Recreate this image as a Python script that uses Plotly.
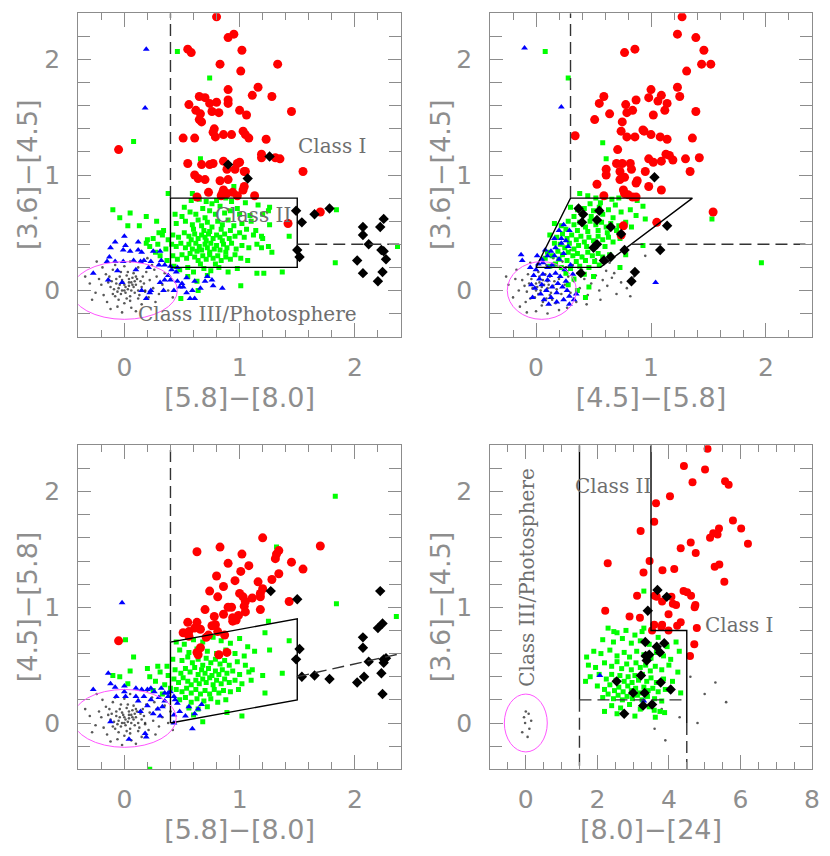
import plotly.graph_objects as go

# ---------------- panel 1 : x=[5.8]-[8.0], y=[3.6]-[4.5]
p1_red = [(0.80, 2.37), (0.90, 2.19), (0.95, 2.22), (0.55, 2.09), (0.58, 2.06), (1.02, 2.08),
          (0.83, 1.96), (1.33, 1.96), (1.01, 1.90), (0.90, 1.74), (1.16, 1.76), (1.11, 1.69),
          (1.28, 1.68), (0.65, 1.68), (0.70, 1.67), (0.90, 1.65), (0.90, 1.62), (0.74, 1.62),
          (0.80, 1.63), (0.56, 1.61), (0.62, 1.56), (0.66, 1.53), (0.76, 1.55), (0.82, 1.54),
          (1.00, 1.56), (1.06, 1.52), (1.45, 1.55), (0.65, 1.48), (0.67, 1.46), (1.03, 1.38),
          (1.05, 1.35), (1.08, 1.32), (0.78, 1.40), (0.77, 1.37), (0.79, 1.33), (0.86, 1.35),
          (0.93, 1.35), (0.51, 1.32), (0.61, 1.32), (1.23, 1.31), (-0.05, 1.22), (1.19, 1.18),
          (1.19, 1.15), (1.31, 1.15), (1.35, 1.14), (0.86, 1.12), (0.89, 1.05), (0.55, 1.10),
          (0.67, 1.09), (0.74, 1.09), (0.77, 1.10), (0.98, 1.10), (1.00, 1.11), (0.96, 1.05),
          (1.04, 1.03), (1.05, 1.03), (1.55, 1.03), (0.61, 1.00), (0.64, 0.97), (0.70, 0.96),
          (0.83, 0.95), (0.90, 0.96), (1.04, 0.90), (1.03, 0.87), (0.86, 0.87), (0.85, 0.84),
          (0.73, 0.85), (0.89, 0.84), (0.94, 0.85), (0.98, 0.82), (0.84, 0.82), (0.63, 0.81),
          (1.13, 0.82), (1.42, 0.58), (1.70, 0.68)]
p1_black = [(0.90, 1.09), (1.07, 0.97), (1.26, 1.16), (1.49, 0.69), (1.54, 0.59), (1.65, 0.66),
            (1.78, 0.71), (1.50, 0.35), (1.52, 0.29), (2.07, 0.55), (2.07, 0.48), (2.12, 0.40),
            (2.02, 0.26), (2.07, 0.15), (2.25, 0.62), (2.22, 0.55), (2.23, 0.35), (2.25, 0.34),
            (2.27, 0.27), (2.24, 0.16), (2.20, 0.08)]
p1_green = [(0.46, 2.07), (0.74, 1.84), (0.08, 1.29), (0.66, 1.14), (-0.10, 0.70), (-0.04, 0.63),
            (0.05, 0.67), (0.03, 0.56), (0.13, 0.56), (0.19, 0.64), (0.38, 0.84), (0.28, 0.60),
            (0.30, 0.50), (0.20, 0.44), (0.19, 0.41), (0.59, 0.84), (0.95, 0.90), (1.26, 0.57),
            (1.25, 0.69), (1.43, 0.47), (1.19, 0.47), (1.19, 0.37), (1.28, 0.33), (1.37, 0.16),
            (1.21, 0.15), (1.15, 0.15), (1.01, 0.04), (1.83, 0.24), (1.84, 0.70), (2.37, 0.38),
            (0.64, 0.00), (0.49, -0.07),
            (0.58, 0.78), (0.65, 0.79), (0.71, 0.77), (0.76, 0.75), (0.80, 0.78), (0.88, 0.80),
            (0.93, 0.77), (1.05, 0.76), (1.16, 0.74), (1.26, 0.72), (0.52, 0.72), (0.68, 0.71),
            (0.83, 0.73), (0.98, 0.71), (0.44, 0.66), (0.50, 0.64), (0.57, 0.68), (0.62, 0.66),
            (0.74, 0.69), (0.79, 0.66), (0.87, 0.67), (0.92, 0.69), (1.00, 0.66), (1.09, 0.65),
            (1.20, 0.66), (0.70, 0.63), (0.45, 0.58), (0.53, 0.60), (0.59, 0.57), (0.64, 0.61),
            (0.67, 0.56), (0.72, 0.59), (0.76, 0.55), (0.81, 0.60), (0.85, 0.57), (0.90, 0.61),
            (0.95, 0.56), (1.02, 0.58), (1.10, 0.60), (0.60, 0.53), (0.69, 0.52), (0.74, 0.51),
            (0.84, 0.53), (0.92, 0.52), (1.06, 0.53), (1.14, 0.52), (0.42, 0.48), (0.47, 0.46),
            (0.52, 0.50), (0.56, 0.47), (0.61, 0.49), (0.64, 0.45), (0.67, 0.48), (0.70, 0.46),
            (0.73, 0.49), (0.77, 0.45), (0.80, 0.48), (0.83, 0.46), (0.87, 0.49), (0.91, 0.45),
            (0.96, 0.47), (1.00, 0.50), (1.04, 0.46), (1.12, 0.48), (1.20, 0.45), (0.58, 0.44),
            (0.71, 0.43), (0.85, 0.43), (0.41, 0.40), (0.45, 0.38), (0.49, 0.41), (0.53, 0.37),
            (0.56, 0.40), (0.59, 0.36), (0.62, 0.41), (0.65, 0.38), (0.67, 0.35), (0.70, 0.40),
            (0.72, 0.37), (0.75, 0.41), (0.78, 0.36), (0.80, 0.39), (0.83, 0.35), (0.86, 0.40),
            (0.89, 0.37), (0.93, 0.41), (0.97, 0.36), (1.02, 0.39), (1.08, 0.37), (1.15, 0.40),
            (1.25, 0.38), (0.63, 0.34), (0.74, 0.33), (0.88, 0.33), (0.42, 0.30), (0.46, 0.27),
            (0.50, 0.31), (0.54, 0.28), (0.57, 0.32), (0.61, 0.29), (0.64, 0.26), (0.68, 0.30),
            (0.71, 0.27), (0.74, 0.31), (0.77, 0.28), (0.81, 0.30), (0.84, 0.26), (0.88, 0.29),
            (0.92, 0.27), (0.96, 0.31), (1.01, 0.28), (1.07, 0.26), (0.66, 0.23), (0.79, 0.23),
            (0.43, 0.21), (0.48, 0.18), (0.55, 0.20), (0.60, 0.16), (0.69, 0.19), (0.75, 0.17),
            (0.82, 0.20), (0.90, 0.16), (0.98, 0.19), (0.55, 0.12), (0.72, 0.13), (0.63, 0.08),
            (0.25, 0.45), (0.29, 0.40), (0.33, 0.48), (0.36, 0.36), (0.22, 0.38), (0.31, 0.30),
            (0.37, 0.26), (0.27, 0.33), (0.34, 0.52), (0.38, 0.44)]
p1_blue = [(0.19, 2.09), (0.18, 1.58), (-0.27, 0.15), (-0.15, 0.25), (-0.13, 0.29), (-0.08, 0.25),
           (-0.12, 0.37), (-0.08, 0.42), (0.00, 0.47), (0.01, 0.39), (-0.01, 0.35), (0.05, 0.34),
           (0.12, 0.42), (0.12, 0.35), (0.15, 0.33), (0.17, 0.26), (0.08, 0.26), (-0.01, 0.25),
           (0.14, 0.25), (0.23, 0.25), (0.25, 0.34), (0.31, 0.34), (0.32, 0.26), (0.21, 0.20),
           (0.10, 0.18), (-0.14, 0.09), (-0.06, 0.17), (0.30, 0.22), (0.35, 0.22), (0.40, 0.21),
           (0.38, 0.13), (0.41, 0.18), (0.45, 0.16), (0.46, 0.08), (0.50, 0.06), (0.51, 0.03),
           (0.54, -0.02), (0.57, -0.07), (0.61, -0.07), (0.48, 0.03), (0.40, 0.09), (0.35, 0.09),
           (0.34, 0.00), (0.43, 0.00), (0.54, 0.11), (0.59, 0.00), (0.66, 0.02), (0.61, 0.08),
           (0.70, 0.08), (0.72, 0.12), (0.76, 0.09), (0.77, 0.04), (0.85, 0.02), (0.22, -0.02),
           (0.23, 0.00), (0.15, 0.00), (0.19, -0.07), (-0.02, 0.07), (0.31, 0.07), (0.46, 0.20)]
# photospheric cloud, shared by panels 1 and 3 (same x colour)
grey_13 = [(-0.05, 0.02), (0.00, 0.05), (0.03, 0.01), (0.06, 0.07), (-0.02, 0.09), (0.08, 0.03),
           (0.01, -0.02), (-0.07, 0.06), (0.04, 0.10), (0.10, 0.05), (-0.03, -0.03), (0.12, 0.00),
           (0.05, -0.05), (-0.09, 0.01), (0.02, 0.13), (0.07, 0.11), (-0.04, 0.12), (0.14, 0.08),
           (-0.11, 0.08), (0.09, -0.02), (0.00, 0.00), (-0.01, 0.07), (0.04, 0.04), (0.06, 0.00),
           (-0.06, -0.01), (0.11, 0.10), (0.02, -0.07), (-0.08, -0.05), (0.15, 0.03), (0.13, -0.04),
           (-0.12, 0.03), (0.03, 0.16), (-0.03, 0.16), (0.08, 0.15), (-0.10, -0.03), (0.17, 0.06),
           (0.05, -0.09), (-0.05, -0.08), (0.01, 0.03), (0.07, 0.05), (-0.02, 0.00), (0.10, 0.12),
           (-0.07, 0.10), (0.12, -0.07), (0.00, -0.11), (-0.13, 0.12), (0.18, -0.01), (0.04, 0.07),
           (-0.04, 0.05), (0.09, 0.08), (-0.20, 0.05), (-0.18, -0.04), (-0.16, 0.14), (-0.22, 0.10),
           (-0.25, -0.02), (0.22, 0.09), (0.25, 0.02), (0.21, -0.06), (0.28, 0.12), (0.30, -0.03),
           (-0.15, -0.10), (0.19, 0.16), (-0.10, 0.18), (0.15, -0.12), (0.00, 0.21), (0.06, -0.15),
           (-0.06, -0.14), (0.12, 0.20), (-0.30, 0.06), (0.33, 0.05), (-0.28, -0.08), (0.35, 0.15),
           (0.27, -0.10), (-0.19, 0.20), (0.24, 0.22), (0.10, -0.18), (-0.12, -0.16), (0.38, 0.00),
           (-0.34, 0.12), (0.40, 0.10), (0.05, 0.25), (-0.02, -0.19), (0.20, 0.28), (-0.24, 0.25),
           (0.42, -0.06), (0.16, 0.12), (-0.14, 0.07), (0.18, 0.00), (-0.08, 0.22), (0.26, 0.18)]

# ---------------- panel 2 : x=[4.5]-[5.8], y=[3.6]-[4.5]
p2_red = [(1.27, 2.37), (1.23, 2.22), (1.39, 2.19), (0.86, 2.09), (0.77, 2.06), (1.46, 2.08),
          (1.44, 1.96), (1.52, 1.96), (1.31, 1.90), (1.23, 1.76), (1.25, 1.68), (1.00, 1.74),
          (1.09, 1.69), (0.98, 1.67), (1.06, 1.64), (1.14, 1.62), (0.59, 1.68), (0.55, 1.62),
          (0.87, 1.65), (0.78, 1.61), (0.79, 1.54), (0.84, 1.56), (0.64, 1.53), (1.02, 1.52),
          (1.12, 1.56), (1.39, 1.55), (0.51, 1.48), (0.75, 1.46), (0.34, 1.34), (0.74, 1.38),
          (0.79, 1.33), (0.86, 1.33), (0.93, 1.39), (0.94, 1.38), (1.00, 1.35), (1.08, 1.33),
          (1.14, 1.31), (1.36, 1.32), (0.71, 1.22), (1.13, 1.18), (1.16, 1.17), (1.19, 1.13),
          (1.09, 1.12), (1.30, 1.14), (1.42, 1.15), (0.70, 1.10), (0.75, 1.10), (0.82, 1.10),
          (0.83, 1.05), (0.98, 1.14), (1.02, 1.11), (0.95, 1.03), (1.34, 1.03), (0.61, 1.05),
          (0.61, 1.00), (0.73, 1.03), (0.73, 0.96), (0.77, 0.98), (0.88, 0.95), (0.87, 0.93),
          (0.98, 0.90), (1.09, 0.87), (0.53, 0.92), (0.59, 0.82), (0.76, 0.87), (0.77, 0.84),
          (0.80, 0.83), (0.84, 0.81), (0.87, 0.81), (0.76, 0.56), (0.74, 0.48), (1.05, 0.59),
          (1.54, 0.68)]
p2_black = [(1.03, 0.98), (0.37, 0.71), (0.41, 0.66), (0.40, 0.59), (0.55, 0.69), (0.53, 0.61),
            (0.65, 0.55), (0.74, 0.49), (0.50, 0.37), (0.53, 0.40), (0.59, 0.26), (0.65, 0.29),
            (0.77, 0.35), (1.14, 0.56), (1.08, 0.35), (0.39, 0.15), (0.86, 0.16), (0.83, 0.08)]
p2_green = [(0.08, 2.07), (0.28, 1.84), (0.58, 1.28), (0.61, 1.14), (1.53, 0.62), (1.96, 0.24),
            (0.93, 0.39), (0.43, -0.06), (0.73, 0.20), (0.78, 0.31),
            (0.38, 0.84), (0.45, 0.82), (0.52, 0.80), (0.60, 0.81), (0.66, 0.79), (0.72, 0.80),
            (0.80, 0.83), (0.56, 0.76), (0.47, 0.75), (0.69, 0.74), (0.88, 0.78), (0.93, 0.73),
            (0.30, 0.72), (0.36, 0.70), (0.42, 0.71), (0.50, 0.69), (0.55, 0.72), (0.63, 0.70),
            (0.74, 0.68), (0.82, 0.70), (0.40, 0.66), (0.48, 0.64), (0.58, 0.66), (0.67, 0.63),
            (0.87, 0.65), (0.95, 0.62), (0.33, 0.64), (0.16, 0.58), (0.22, 0.56), (0.28, 0.60),
            (0.33, 0.57), (0.38, 0.59), (0.43, 0.55), (0.47, 0.60), (0.52, 0.57), (0.57, 0.59),
            (0.61, 0.55), (0.65, 0.58), (0.72, 0.56), (0.78, 0.59), (0.83, 0.55), (0.26, 0.53),
            (0.36, 0.52), (0.45, 0.51), (0.54, 0.52), (0.62, 0.50), (0.70, 0.52), (0.12, 0.48),
            (0.18, 0.46), (0.23, 0.49), (0.27, 0.45), (0.31, 0.48), (0.35, 0.44), (0.39, 0.47),
            (0.42, 0.42), (0.46, 0.46), (0.50, 0.43), (0.54, 0.47), (0.58, 0.44), (0.63, 0.46),
            (0.67, 0.42), (0.73, 0.45), (0.16, 0.41), (0.21, 0.40), (0.29, 0.41), (0.37, 0.39),
            (0.44, 0.38), (0.52, 0.39), (0.60, 0.38), (0.33, 0.36), (0.25, 0.37), (0.10, 0.33),
            (0.14, 0.30), (0.19, 0.34), (0.23, 0.31), (0.28, 0.33), (0.32, 0.30), (0.36, 0.32),
            (0.40, 0.29), (0.45, 0.33), (0.49, 0.30), (0.54, 0.32), (0.58, 0.29), (0.64, 0.31),
            (0.20, 0.27), (0.27, 0.26), (0.35, 0.25), (0.43, 0.26), (0.51, 0.25), (0.08, 0.28),
            (0.17, 0.23), (0.12, 0.21), (0.22, 0.20), (0.30, 0.19), (0.38, 0.21), (0.46, 0.20),
            (0.55, 0.22), (0.26, 0.15), (0.42, 0.14), (0.33, 0.10), (0.50, 0.12), (0.28, 0.05),
            (0.46, 0.03), (0.36, 0.00)]
p2_blue = [(-0.10, 2.10), (0.22, 1.59), (1.04, 0.07), (-0.13, 0.31), (-0.12, 0.26),
           (0.00, 0.18), (0.02, 0.23), (0.05, 0.27), (0.10, 0.30), (0.13, 0.34), (0.17, 0.37),
           (0.22, 0.45), (0.22, 0.41), (0.26, 0.43), (0.28, 0.38), (0.16, 0.30), (0.20, 0.27),
           (0.24, 0.32), (0.14, 0.22), (0.10, 0.20), (0.06, 0.14), (0.03, 0.10), (-0.02, 0.13),
           (-0.04, 0.05), (-0.01, 0.02), (0.05, 0.05), (0.10, 0.09), (0.12, 0.13), (0.17, 0.15),
           (0.21, 0.12), (0.19, 0.06), (0.14, 0.03), (0.09, 0.00), (0.04, -0.03), (0.13, -0.06),
           (0.18, -0.02), (0.23, 0.03), (0.26, 0.08), (0.27, 0.00), (0.29, -0.05), (0.24, -0.08),
           (0.18, -0.10), (0.11, -0.12), (0.07, -0.08), (-0.03, -0.06), (0.29, -0.12), (0.33, -0.08),
           (0.35, -0.03), (0.25, 0.18), (0.30, 0.22), (0.32, 0.14), (0.08, 0.35), (0.16, 0.45),
           (0.20, 0.52), (0.24, 0.57), (0.29, 0.52), (0.01, 0.30), (-0.05, 0.20), (0.06, 0.24)]
p2_grey = [(0.05, 0.03), (0.00, 0.06), (0.08, 0.00), (0.02, -0.03), (-0.03, 0.02), (0.11, 0.05),
           (0.06, 0.09), (-0.06, 0.06), (0.13, -0.02), (0.03, 0.12), (-0.01, -0.06), (0.09, -0.07),
           (0.16, 0.08), (-0.08, -0.01), (0.04, 0.00), (0.07, 0.05), (-0.04, 0.10), (0.12, 0.12),
           (0.01, 0.03), (0.10, 0.02), (-0.10, 0.04), (0.18, 0.01), (0.06, -0.10), (-0.05, -0.07),
           (0.14, -0.08), (0.02, 0.16), (0.20, 0.10), (-0.12, 0.09), (0.08, 0.14), (0.15, 0.04),
           (-0.02, 0.13), (0.22, -0.03), (0.05, -0.13), (-0.09, -0.10), (0.17, -0.11), (0.00, 0.00),
           (0.10, 0.08), (0.03, 0.07), (-0.07, 0.14), (0.12, -0.04), (0.25, 0.05), (0.28, 0.12),
           (0.30, -0.02), (0.33, 0.08), (0.36, 0.15), (0.38, 0.02), (0.42, 0.10), (0.45, -0.04),
           (0.48, 0.06), (0.52, 0.13), (0.55, 0.00), (0.58, 0.09), (0.62, 0.04), (0.66, 0.11),
           (0.70, -0.03), (0.74, 0.07), (0.79, 0.02), (0.26, 0.20), (0.32, 0.22), (0.40, 0.18),
           (0.47, 0.20), (0.35, -0.10), (0.44, -0.12), (0.27, -0.15), (0.56, -0.08), (0.61, 0.17),
           (0.68, 0.15), (-0.15, 0.00), (-0.18, 0.10), (-0.20, -0.06), (-0.24, 0.05), (-0.14, -0.14),
           (-0.17, 0.18), (-0.26, 0.12), (0.00, -0.18), (0.10, -0.20), (-0.08, -0.19), (0.20, -0.17),
           (0.09, 0.22), (-0.05, 0.24), (0.23, 0.25), (0.15, 0.28), (0.52, 0.27), (0.64, 0.24),
           (0.40, 0.30), (0.73, 0.20), (0.30, 0.35), (0.85, 0.12), (0.82, -0.05), (0.95, 0.30)]

# ---------------- panel 3 : x=[5.8]-[8.0], y=[4.5]-[5.8]
p3_red = [(1.20, 1.60), (1.70, 1.53), (0.83, 1.52), (0.63, 1.48), (1.32, 1.46), (1.34, 1.49),
          (1.31, 1.42), (1.02, 1.46), (0.90, 1.38), (1.08, 1.36), (1.45, 1.39), (1.55, 1.33),
          (1.01, 1.31), (1.34, 1.29), (0.80, 1.27), (0.96, 1.23), (1.16, 1.22), (1.28, 1.24),
          (0.86, 1.18), (0.74, 1.14), (1.20, 1.16), (1.18, 1.12), (1.18, 1.09), (1.00, 1.12),
          (1.03, 1.09), (1.05, 1.05), (1.11, 1.08), (0.81, 1.09), (1.43, 1.05), (0.90, 1.00),
          (0.93, 1.00), (0.70, 0.98), (1.18, 0.98), (1.04, 1.01), (1.05, 0.96), (0.78, 0.92),
          (0.86, 0.94), (0.97, 0.89), (0.99, 0.93), (0.55, 0.87), (0.63, 0.87), (0.61, 0.82),
          (0.66, 0.81), (0.76, 0.84), (0.79, 0.85), (0.51, 0.78), (0.56, 0.75), (0.56, 0.79),
          (0.71, 0.74), (0.73, 0.76), (0.81, 0.79), (0.87, 0.76), (0.66, 0.65), (0.63, 0.61),
          (0.64, 0.59), (0.82, 0.59), (0.89, 0.61), (-0.05, 0.71), (0.94, 0.88), (0.94, 0.91)]
p3_black = [(1.27, 1.14), (1.50, 1.07), (1.52, 0.64), (1.49, 0.55), (1.54, 0.40), (1.65, 0.41),
            (1.78, 0.38), (2.02, 0.35), (2.08, 0.40), (2.07, 0.74), (2.07, 0.65), (2.12, 0.53),
            (2.22, 1.14), (2.20, 0.82), (2.24, 0.86), (2.25, 0.55), (2.27, 0.56), (2.25, 0.52),
            (2.23, 0.43), (2.24, 0.25)]
p3_green = [(1.83, 1.96), (1.84, 1.03), (2.36, 0.92), (1.32, 1.52), (0.01, 0.72), (0.08, 0.57),
            (0.22, -0.40), (0.20, 0.47), (0.05, 0.45), (-0.04, 0.40), (-0.10, 0.41), (0.03, 0.34),
            (1.43, 0.71), (1.26, 0.63), (1.22, 0.78), (1.25, 0.88), (1.37, 0.43), (1.22, 0.26),
            (1.20, 0.41), (1.02, 0.06), (0.89, 0.09), (0.68, 0.01),
            (0.45, 0.70), (0.52, 0.68), (0.60, 0.72), (0.68, 0.70), (0.77, 0.74), (0.84, 0.71),
            (0.92, 0.69), (1.00, 0.73), (1.07, 0.66), (0.48, 0.63), (0.56, 0.61), (0.63, 0.64),
            (0.72, 0.62), (0.80, 0.60), (0.88, 0.63), (0.96, 0.60), (1.04, 0.58), (1.13, 0.62),
            (0.42, 0.55), (0.50, 0.54), (0.55, 0.57), (0.59, 0.52), (0.64, 0.55), (0.68, 0.50),
            (0.71, 0.56), (0.75, 0.52), (0.79, 0.55), (0.83, 0.51), (0.87, 0.54), (0.91, 0.50),
            (0.98, 0.53), (1.05, 0.50), (1.11, 0.46), (0.44, 0.46), (0.49, 0.43), (0.53, 0.47),
            (0.57, 0.44), (0.61, 0.48), (0.64, 0.42), (0.67, 0.46), (0.70, 0.43), (0.73, 0.47),
            (0.76, 0.41), (0.79, 0.45), (0.82, 0.42), (0.85, 0.46), (0.89, 0.43), (0.94, 0.45),
            (1.00, 0.42), (1.08, 0.44), (0.43, 0.38), (0.47, 0.35), (0.51, 0.39), (0.55, 0.36),
            (0.58, 0.33), (0.62, 0.37), (0.65, 0.34), (0.68, 0.38), (0.71, 0.35), (0.74, 0.39),
            (0.77, 0.33), (0.80, 0.37), (0.84, 0.34), (0.87, 0.38), (0.91, 0.35), (0.96, 0.37),
            (1.02, 0.34), (1.10, 0.37), (0.45, 0.29), (0.50, 0.27), (0.54, 0.30), (0.58, 0.26),
            (0.62, 0.29), (0.66, 0.25), (0.70, 0.28), (0.74, 0.25), (0.78, 0.29), (0.82, 0.26),
            (0.86, 0.28), (0.92, 0.27), (0.99, 0.29), (0.48, 0.20), (0.53, 0.22), (0.58, 0.18),
            (0.63, 0.21), (0.69, 0.19), (0.75, 0.21), (0.81, 0.18), (0.88, 0.20), (0.56, 0.13),
            (0.64, 0.12), (0.72, 0.14), (0.60, 0.07), (0.22, 0.40), (0.27, 0.36), (0.31, 0.44),
            (0.35, 0.33), (0.38, 0.41), (0.25, 0.28), (0.33, 0.25), (0.37, 0.49), (0.29, 0.49),
            (0.40, 0.30)]
p3_blue = [(-0.02, 1.04), (-0.27, 0.29), (-0.14, 0.43), (-0.12, 0.34), (-0.08, 0.31), (0.00, 0.32),
           (0.00, 0.27), (0.10, 0.30), (0.15, 0.29), (0.20, 0.29), (0.23, 0.30), (-0.07, 0.23),
           (0.01, 0.23), (0.10, 0.23), (0.12, 0.19), (0.17, 0.23), (0.20, 0.15), (0.14, 0.10),
           (0.25, 0.08), (0.29, 0.12), (0.33, 0.14), (0.30, 0.22), (0.35, 0.26), (0.38, 0.23),
           (0.43, 0.23), (0.40, 0.27), (0.44, 0.20), (0.46, 0.17), (0.48, 0.10), (0.53, 0.06),
           (0.56, 0.14), (0.61, 0.08), (0.64, 0.12), (0.67, 0.16), (0.43, 0.07), (0.43, 0.00),
           (0.59, -0.05), (-0.12, 0.01), (0.04, -0.14), (0.19, -0.12), (0.18, -0.09), (0.38, 0.26),
           (0.35, 0.19), (0.23, 0.20), (0.31, 0.06), (0.26, 0.27), (0.32, 0.30)]

# ---------------- panel 4 : x=[8.0]-[24], y=[3.6]-[4.5]
p4_red = [(5.08, 2.37), (4.42, 2.22), (5.01, 2.19), (4.66, 2.08), (5.57, 2.09), (5.67, 2.06),
          (4.03, 1.96), (3.64, 1.90), (3.59, 1.74), (3.21, 1.66), (5.79, 1.75), (5.40, 1.68),
          (6.02, 1.68), (5.15, 1.60), (5.24, 1.64), (5.36, 1.63), (4.61, 1.56), (4.75, 1.47),
          (4.33, 1.51), (6.21, 1.55), (2.29, 1.38), (3.46, 1.40), (3.29, 1.30), (3.82, 1.32),
          (4.15, 1.33), (5.28, 1.35), (5.41, 1.37), (5.55, 1.22), (3.11, 1.10), (3.60, 1.10),
          (3.66, 1.09), (3.81, 1.05), (4.07, 1.09), (4.41, 1.14), (4.51, 1.13), (4.62, 1.10),
          (4.11, 1.03), (4.20, 1.02), (4.74, 1.02), (4.72, 1.00), (2.22, 0.97), (2.90, 0.92),
          (3.19, 0.91), (3.99, 0.94), (3.59, 0.85), (3.81, 0.85), (3.79, 0.83), (3.99, 0.80),
          (3.53, 0.80), (4.33, 0.87), (4.23, 0.84), (4.78, 0.82), (4.71, 0.68), (4.59, 0.58)]
p4_black = [(3.68, 1.15), (3.94, 1.09), (3.41, 0.97), (3.34, 0.70), (3.66, 0.66), (3.75, 0.61),
            (3.87, 0.69), (3.35, 0.58), (3.45, 0.59), (3.38, 0.54), (3.22, 0.41), (2.54, 0.36),
            (3.77, 0.35), (3.00, 0.26), (3.32, 0.26), (4.05, 0.29), (3.28, 0.15), (3.53, 0.16),
            (2.75, 0.08)]
p4_green = [(3.30, 1.14), (2.46, 0.79), (3.30, 0.82), (1.67, 0.36), (1.70, 0.57), (4.29, 0.62),
            (4.33, 0.26), (2.20, 0.10), (3.88, 0.09), (3.59, 0.11),
            (2.30, 0.82), (2.55, 0.78), (2.80, 0.80), (3.05, 0.76), (3.25, 0.79), (2.15, 0.72),
            (2.45, 0.70), (2.70, 0.73), (2.95, 0.69), (3.20, 0.71), (3.45, 0.68), (3.70, 0.74),
            (3.95, 0.66), (4.20, 0.70), (1.90, 0.62), (2.10, 0.60), (2.35, 0.63), (2.55, 0.58),
            (2.75, 0.61), (2.90, 0.57), (3.10, 0.62), (3.30, 0.59), (3.50, 0.56), (3.65, 0.61),
            (3.85, 0.58), (4.05, 0.55), (1.75, 0.50), (1.95, 0.48), (2.20, 0.52), (2.40, 0.49),
            (2.55, 0.53), (2.68, 0.47), (2.82, 0.51), (2.95, 0.46), (3.08, 0.52), (3.20, 0.48),
            (3.35, 0.50), (3.48, 0.45), (3.62, 0.49), (3.80, 0.46), (4.00, 0.50), (4.25, 0.44),
            (1.80, 0.40), (2.05, 0.42), (2.25, 0.38), (2.40, 0.42), (2.52, 0.37), (2.63, 0.41),
            (2.75, 0.36), (2.86, 0.40), (2.97, 0.35), (3.05, 0.41), (3.15, 0.37), (3.26, 0.42),
            (3.38, 0.36), (3.50, 0.39), (3.65, 0.35), (3.85, 0.38), (4.10, 0.36), (2.00, 0.32),
            (2.20, 0.29), (2.35, 0.33), (2.48, 0.28), (2.60, 0.31), (2.72, 0.27), (2.85, 0.32),
            (2.95, 0.28), (3.07, 0.30), (3.18, 0.26), (3.30, 0.31), (3.42, 0.28), (3.55, 0.30),
            (3.70, 0.27), (3.90, 0.29), (2.15, 0.22), (2.30, 0.25), (2.45, 0.21), (2.58, 0.24),
            (2.70, 0.20), (2.83, 0.23), (2.98, 0.21), (3.12, 0.24), (3.25, 0.20), (3.40, 0.23),
            (3.60, 0.21), (3.80, 0.19), (2.40, 0.15), (2.65, 0.13), (2.90, 0.16), (3.20, 0.12),
            (3.45, 0.14), (3.75, 0.10), (2.55, 0.08), (3.05, 0.06), (3.62, 0.05)]
p4_blue = [(2.07, 0.41), (3.30, 0.19)]
p4_grey = [(-0.05, 0.05), (0.10, -0.05), (0.00, 0.10), (-0.10, -0.08), (0.15, 0.02), (0.05, -0.12),
           (-0.02, 0.00), (0.08, 0.08), (3.80, 0.12), (4.30, 0.05), (5.00, 0.25), (5.60, 0.18),
           (4.80, 0.00), (3.60, -0.05), (4.10, 0.30), (5.30, 0.35), (4.60, 0.40), (3.90, -0.15)]

# ---------------- selection criteria (x list, y list)
p1_box = ([0.4, 1.5, 1.5, 0.4, 0.4], [0.2, 0.2, 0.8, 0.8, 0.2])
p1_dashes = [([0.4, 0.4], [0.8, 2.4]), ([1.5, 2.4], [0.4, 0.4])]
p2_box = ([0.0, 0.56, 1.36, 0.3, 0.0], [0.2, 0.2, 0.8, 0.8, 0.2])
p2_dashes = [([0.3, 0.3], [0.8, 2.4]), ([0.83, 2.4], [0.4, 0.4])]
p3_box = ([0.4, 1.5, 1.5, 0.4, 0.4], [0.0, 0.2, 0.9, 0.7, 0.0])
p3_dashes = [([0.4, 0.4], [0.7, 2.4]), ([1.5, 2.4], [0.4, 0.6])]
p4_solid = [([1.5, 1.5], [0.2, 2.4]), ([3.5, 3.5, 4.5, 4.5], [2.4, 0.8, 0.8, 0.0])]
p4_dashes = [([1.5, 1.5], [0.2, -0.4]), ([4.5, 4.5], [0.0, -0.4]), ([1.5, 4.5], [0.2, 0.2])]
# photosphere ellipses: (xc, yc, half-width, half-height)
ellipses = {1: (0.0, 0.0, 0.46, 0.25), 2: (0.05, 0.0, 0.30, 0.25),
            3: (0.0, 0.04, 0.45, 0.25), 4: (0.0, 0.0, 0.60, 0.25)}

fig = go.Figure()


def ax(n):
    return ('x' if n == 1 else 'x%d' % n), ('y' if n == 1 else 'y%d' % n)


def add_points(n, pts, symbol, color, size, opacity=1.0):
    xa, ya = ax(n)
    fig.add_trace(go.Scatter(
        x=[p[0] for p in pts], y=[p[1] for p in pts], mode='markers', xaxis=xa, yaxis=ya,
        marker=dict(symbol=symbol, color=color, size=size, opacity=opacity, line=dict(width=0)),
        showlegend=False, hoverinfo='skip'))


def add_line(n, xs, ys, dashed):
    xa, ya = ax(n)
    fig.add_trace(go.Scatter(
        x=xs, y=ys, mode='lines', xaxis=xa, yaxis=ya,
        line=dict(color='#333333' if dashed else 'black', width=1.4,
                  dash='12px,6px' if dashed else 'solid'),
        showlegend=False, hoverinfo='skip'))


panels = {
    1: (grey_13, p1_green, p1_blue, p1_red, p1_black),
    2: (p2_grey, p2_green, p2_blue, p2_red, p2_black),
    3: (grey_13, p3_green, p3_blue, p3_red, p3_black),
    4: (p4_grey, p4_green, p4_blue, p4_red, p4_black),
}
for n, (grey, green, blue, red, black) in panels.items():
    add_points(n, grey, 'circle', '#222222', 2.6, 0.75)
    add_points(n, green, 'square', '#00ff00', 5)
    add_points(n, blue, 'triangle-up', '#0000ff', 6)
    add_points(n, red, 'circle', '#ff0000', 9 if n < 4 else 8)
    add_points(n, black, 'diamond', 'black', 8)

for n, box, dashes in [(1, p1_box, p1_dashes), (2, p2_box, p2_dashes), (3, p3_box, p3_dashes)]:
    add_line(n, box[0], box[1], False)
    for xs, ys in dashes:
        add_line(n, xs, ys, True)
for xs, ys in p4_solid:
    add_line(4, xs, ys, False)
for xs, ys in p4_dashes:
    add_line(4, xs, ys, True)

for n, (xc, yc, a, b) in ellipses.items():
    xa, ya = ax(n)
    fig.add_shape(type='circle', xref=xa, yref=ya, x0=xc - a, x1=xc + a, y0=yc - b, y1=yc + b,
                  line=dict(color='#ff55ff', width=1))

label_font = dict(family='DejaVu Serif', size=20, color='#6e6e6e')
notes = [(1, 1.80, 1.25, 'Class I', 0), (1, 1.12, 0.65, 'Class II', 0),
         (1, 1.07, -0.20, 'Class III/Photosphere', 0),
         (4, 0.05, 1.26, 'Class III/Photosphere', -90), (4, 2.44, 2.05, 'Class II', 0),
         (4, 5.96, 0.85, 'Class I', 0)]
for n, x, y, txt, ang in notes:
    xa, ya = ax(n)
    fig.add_annotation(x=x, y=y, xref=xa, yref=ya, text=txt, showarrow=False,
                       textangle=ang, font=label_font)

xdom = {1: [0.0943, 0.4831], 2: [0.5904, 0.9783], 3: [0.0943, 0.4831], 4: [0.5904, 0.9783]}
ydom = {1: [0.6067, 0.9844], 2: [0.6067, 0.9844], 3: [0.1013, 0.4798], 4: [0.1013, 0.4798]}
xtitles = {1: '[5.8]\u2212[8.0]', 2: '[4.5]\u2212[5.8]', 3: '[5.8]\u2212[8.0]', 4: '[8.0]\u2212[24]'}
ytitles = {1: '[3.6]\u2212[4.5]', 2: '[3.6]\u2212[4.5]', 3: '[4.5]\u2212[5.8]', 4: '[3.6]\u2212[4.5]'}

tick_font = dict(family='DejaVu Sans', size=25, color='#8e8e8e')
title_font = dict(family='DejaVu Sans', size=27, color='#8e8e8e')
common = dict(showline=True, linecolor='#8c8c8c', linewidth=1, mirror='ticks', ticks='inside',
              tickcolor='#8c8c8c', showgrid=False, zeroline=False, tickfont=tick_font,
              automargin=False)

layout = {}
for n in range(1, 5):
    xa, ya = ax(n)
    if n == 4:
        xr, xt, xminor = [-1, 8], [0, 2, 4, 6, 8], 0.5
    else:
        xr, xt, xminor = [-0.4, 2.4], [0, 1, 2], 0.2
    layout['xaxis' if n == 1 else 'xaxis%d' % n] = dict(
        common, domain=xdom[n], anchor=ya, range=xr, tickvals=xt, ticklen=14,
        ticklabelstandoff=8,
        minor=dict(dtick=xminor, tick0=0, ticks='inside', ticklen=7, tickcolor='#8c8c8c'),
        title=dict(text=xtitles[n], font=title_font, standoff=5))
    layout['yaxis' if n == 1 else 'yaxis%d' % n] = dict(
        common, domain=ydom[n], anchor=xa, range=[-0.4, 2.4], tickvals=[0, 1, 2], ticklen=13,
        ticklabelstandoff=12,
        minor=dict(dtick=0.2, tick0=0, ticks='inside', ticklen=12, tickcolor='#8c8c8c'))
    # y titles placed as rotated paper annotations for exact horizontal position
    fig.add_annotation(x=(27 if n in (1, 3) else 440) / 830.0, y=sum(ydom[n]) / 2,
                       xref='paper', yref='paper', text=ytitles[n], showarrow=False,
                       textangle=-90, font=title_font, xanchor='center', yanchor='middle')

fig.update_layout(width=830, height=856, margin=dict(l=0, r=0, t=0, b=0),
                  plot_bgcolor='white', paper_bgcolor='white', **layout)
fig.write_html("out.html", config={'displayModeBar': False},
               post_script="document.body.style.margin='0px';")
